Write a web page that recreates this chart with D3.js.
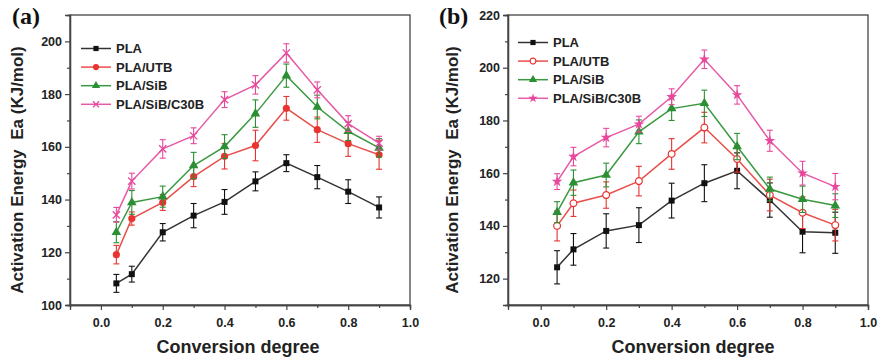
<!DOCTYPE html>
<meta charset="utf-8">
<style>
body { margin: 0; background: #fff; }
.tick-label { font: bold 12.5px "Liberation Sans", Arial, sans-serif; fill: #222; }
.axis-title { font: bold 17px "Liberation Sans", Arial, sans-serif; fill: #222; }
.x-title { font: bold 18px "Liberation Sans", Arial, sans-serif; fill: #222; }
.legend text { font: bold 13px "Liberation Sans", Arial, sans-serif; fill: #222; }
.panel-label { font: bold 24px "Liberation Serif", "Times New Roman", serif; fill: #111; }
</style>
<body>
<svg width="880" height="361"></svg>
<script src="https://d3js.org/d3.v7.min.js"></script>
<script>
var conversion = [0.05, 0.1, 0.2, 0.3, 0.4, 0.5, 0.6, 0.7, 0.8, 0.9];
var seriesNames = ["PLA", "PLA/UTB", "PLA/SiB", "PLA/SiB/C30B"];

// panel (a)
var a_PLA      = [108.2, 111.7, 127.6, 133.9, 139.1, 146.9, 153.8, 148.5, 143.0, 137.0];
var a_PLA_err  = [3.4, 3.0, 3.3, 4.6, 4.7, 3.6, 3.2, 4.4, 4.5, 4.0];
var a_UTB      = [119.1, 132.8, 138.9, 148.7, 156.4, 160.5, 174.6, 166.5, 161.2, 157.0];
var a_UTB_err  = [3.5, 2.5, 3.0, 3.8, 4.8, 5.8, 4.5, 4.8, 4.8, 5.5];
var a_SiB      = [127.6, 138.9, 141.1, 152.9, 160.1, 172.6, 187.0, 175.1, 165.9, 159.6];
var a_SiB_err  = [4.0, 4.5, 4.0, 5.0, 4.5, 5.2, 4.4, 4.5, 3.5, 3.5];
var a_C30B     = [134.2, 147.0, 159.2, 164.2, 177.9, 183.5, 195.6, 181.6, 168.8, 161.4];
var a_C30B_err = [2.8, 3.0, 3.5, 3.0, 3.0, 3.5, 3.5, 3.0, 3.0, 2.6];

// panel (b)
var b_PLA      = [124.3, 131.1, 138.1, 140.3, 149.6, 156.2, 160.9, 149.8, 137.8, 137.4];
var b_PLA_err  = [6.3, 6.0, 6.5, 6.6, 6.6, 7.0, 6.8, 6.5, 8.0, 7.8];
var b_UTB      = [140.0, 148.6, 151.7, 157.0, 167.3, 177.3, 165.4, 151.7, 145.0, 140.3];
var b_UTB_err  = [5.7, 5.0, 5.0, 5.6, 5.8, 5.8, 5.0, 6.0, 6.0, 6.0];
var b_SiB      = [145.2, 156.4, 159.3, 175.7, 184.5, 186.5, 170.1, 154.0, 150.1, 147.7];
var b_SiB_err  = [4.0, 4.8, 4.5, 4.5, 4.5, 5.0, 5.0, 4.5, 5.0, 4.5];
var b_C30B     = [156.8, 166.3, 173.5, 178.6, 189.0, 203.2, 189.7, 172.3, 160.0, 154.9];
var b_C30B_err = [3.0, 3.5, 3.5, 3.0, 3.0, 3.5, 3.5, 4.0, 4.5, 5.0];

var xTicks = [0.0, 0.2, 0.4, 0.6, 0.8, 1.0];
var xMinor = [0.1, 0.3, 0.5, 0.7, 0.9];
var a_yTicks = [100, 120, 140, 160, 180, 200];
var a_yMinor = [110, 130, 150, 170, 190];
var b_yTicks = [120, 140, 160, 180, 200, 220];
var b_yMinor = [130, 150, 170, 190, 210];

var colors = ["#111", "#e8332f", "#2b8f33", "#e8489b"];
var lineColors = ["#333", "#e8504c", "#3a9940", "#e65aa6"];

var svg = d3.select("svg");

function drawPanel(p) {
  var x = d3.scaleLinear().domain([-0.1, 1.0]).range([p.left, p.right]);
  var y = d3.scaleLinear().domain(p.yDomain).range([p.bottom, p.top]);
  var g = svg.append("g");

  // frame
  g.append("rect")
    .attr("x", p.left).attr("y", p.top)
    .attr("width", p.right - p.left).attr("height", p.bottom - p.top)
    .attr("fill", "none").attr("stroke", "#444").attr("stroke-width", 1.3);

  // axes, major + minor ticks
  var gx = g.append("g").attr("transform", "translate(0," + p.bottom + ")")
    .call(d3.axisBottom(x).tickValues(xTicks).tickSize(5).tickFormat(d3.format(".1f")));
  g.append("g").attr("transform", "translate(0," + p.bottom + ")")
    .call(d3.axisBottom(x).tickValues(xMinor).tickSize(3).tickFormat(""));
  var gy = g.append("g").attr("transform", "translate(" + p.left + ",0)")
    .call(d3.axisLeft(y).tickValues(p.yTicks).tickSize(5));
  g.append("g").attr("transform", "translate(" + p.left + ",0)")
    .call(d3.axisLeft(y).tickValues(p.yMinor).tickSize(3).tickFormat(""));
  g.selectAll(".domain").attr("stroke", "#444").attr("stroke-width", 1.3);
  g.selectAll(".tick line").attr("stroke", "#444").attr("stroke-width", 1.2);
  gx.selectAll(".tick text").attr("class", "tick-label").attr("dy", "1.1em").attr("font-size", null).attr("font-family", null);
  gy.selectAll(".tick text").attr("class", "tick-label").attr("x", -8).attr("font-size", null).attr("font-family", null);

  // titles
  g.append("text").attr("class", "axis-title")
    .attr("transform", "translate(" + p.yTitleX + ",170) rotate(-90)")
    .attr("text-anchor", "middle").text("Activation Energy\u00a0\u00a0Ea (KJ/mol)");
  g.append("text").attr("class", "x-title")
    .attr("x", (p.left + p.right) / 2 + p.xTitleShift).attr("y", 353)
    .attr("text-anchor", "middle").text("Conversion degree");
  g.append("text").attr("class", "panel-label")
    .attr("x", p.labelX).attr("y", 24).text(p.label);

  var line = d3.line().x(function(d) { return x(d[0]); }).y(function(d) { return y(d[1]); });

  p.series.forEach(function(s, i) {
    var pts = conversion.map(function(c, j) { return [c, s.v[j], s.e[j]]; });
    var sg = g.append("g");
    sg.append("path").datum(pts).attr("d", line)
      .attr("fill", "none").attr("stroke", lineColors[i]).attr("stroke-width", 1.5);
    // error bars
    var eb = sg.selectAll(".eb").data(pts).enter().append("g").attr("stroke", colors[i]).attr("stroke-width", 1.1);
    eb.append("line").attr("x1", function(d) { return x(d[0]); }).attr("x2", function(d) { return x(d[0]); })
      .attr("y1", function(d) { return y(d[1] - d[2]); }).attr("y2", function(d) { return y(d[1] + d[2]); });
    eb.append("line").attr("x1", function(d) { return x(d[0]) - 3; }).attr("x2", function(d) { return x(d[0]) + 3; })
      .attr("y1", function(d) { return y(d[1] + d[2]); }).attr("y2", function(d) { return y(d[1] + d[2]); });
    eb.append("line").attr("x1", function(d) { return x(d[0]) - 3; }).attr("x2", function(d) { return x(d[0]) + 3; })
      .attr("y1", function(d) { return y(d[1] - d[2]); }).attr("y2", function(d) { return y(d[1] - d[2]); });
    // markers
    sg.selectAll(".mk").data(pts).enter().append("path")
      .attr("transform", function(d) { return "translate(" + x(d[0]) + "," + y(d[1]) + ")"; })
      .each(function() { styleMarker(d3.select(this), p.markers[i], colors[i]); });
  });

  // legend
  var lg = g.append("g").attr("class", "legend");
  seriesNames.forEach(function(name, i) {
    var ly = p.legendY + i * 18.6;
    lg.append("line").attr("x1", p.legendX).attr("x2", p.legendX + 30)
      .attr("y1", ly).attr("y2", ly).attr("stroke", lineColors[i]).attr("stroke-width", 1.5);
    var m = lg.append("path").attr("transform", "translate(" + (p.legendX + 15) + "," + ly + ")");
    styleMarker(m, p.markers[i], colors[i], 0.75);
    lg.append("text").attr("x", p.legendX + 35).attr("y", ly + 4.5).text(name);
  });
}

function styleMarker(sel, type, color, scale) {
  scale = scale || 1;
  if (type === "square") {
    sel.attr("d", d3.symbol().type(d3.symbolSquare).size(36 * scale)).attr("fill", color);
  } else if (type === "circle") {
    sel.attr("d", d3.symbol().type(d3.symbolCircle).size(40 * scale)).attr("fill", color);
  } else if (type === "ocircle") {
    sel.attr("d", d3.symbol().type(d3.symbolCircle).size(36 * scale)).attr("fill", "#fff")
      .attr("stroke", color).attr("stroke-width", 1.2);
  } else if (type === "triangle") {
    sel.attr("d", d3.symbol().type(d3.symbolTriangle).size(40 * scale)).attr("fill", color);
  } else if (type === "x") {
    sel.attr("d", d3.symbol().type(d3.symbolX).size(36 * scale)).attr("fill", "none")
      .attr("stroke", color).attr("stroke-width", 1.3);
  } else if (type === "star") {
    sel.attr("d", d3.symbol().type(d3.symbolStar).size(36 * scale)).attr("fill", color);
  }
}

drawPanel({
  left: 70, right: 410, top: 15, bottom: 305,
  yDomain: [100, 210], yTicks: a_yTicks, yMinor: a_yMinor,
  yTitleX: 23, labelX: 12, label: "(a)", xTitleShift: -2,
  legendX: 81, legendY: 48.5,
  markers: ["square", "circle", "triangle", "x"],
  series: [
    {v: a_PLA, e: a_PLA_err}, {v: a_UTB, e: a_UTB_err},
    {v: a_SiB, e: a_SiB_err}, {v: a_C30B, e: a_C30B_err}
  ]
});

drawPanel({
  left: 508, right: 868, top: 15, bottom: 305,
  yDomain: [110, 220], yTicks: b_yTicks, yMinor: b_yMinor,
  yTitleX: 458, labelX: 439, label: "(b)", xTitleShift: 5,
  legendX: 518, legendY: 42.5,
  markers: ["square", "ocircle", "triangle", "star"],
  series: [
    {v: b_PLA, e: b_PLA_err}, {v: b_UTB, e: b_UTB_err},
    {v: b_SiB, e: b_SiB_err}, {v: b_C30B, e: b_C30B_err}
  ]
});
</script>
</body>
